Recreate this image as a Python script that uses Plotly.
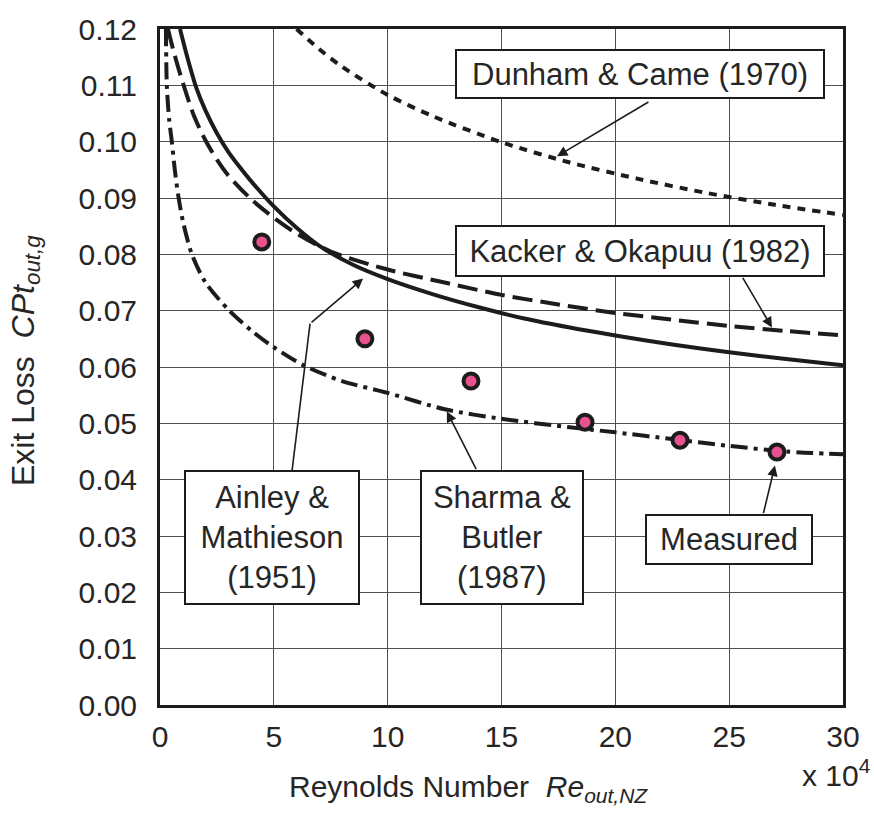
import plotly.graph_objects as go

# Reynolds number (x 10^4) and exit loss coefficient for each correlation
ainley_re = [0.88, 1.2, 1.6, 2.0, 2.5, 3.0, 3.5, 4.0, 5.0, 6.0, 7.0, 8.5, 10, 12, 14, 16, 18, 20, 22.5, 25, 27.5, 30]
ainley_cp = [0.1200, 0.1150, 0.1095, 0.1055, 0.1015, 0.0982, 0.0955, 0.0930, 0.0885, 0.0847, 0.0815, 0.0781,
             0.0756, 0.0729, 0.0706, 0.0686, 0.0670, 0.0656, 0.0640, 0.0626, 0.0614, 0.0603]

kacker_re = [0.35, 0.6, 1.0, 1.5, 2.0, 2.5, 3.0, 4.0, 5.0, 6.0, 7.5, 10, 12.5, 15, 17.5, 20, 22.5, 25, 27.5, 30]
kacker_cp = [0.1200, 0.1160, 0.1105, 0.1045, 0.1002, 0.0968, 0.0940, 0.0898, 0.0865, 0.0837, 0.0805, 0.0773,
             0.0750, 0.0728, 0.0711, 0.0696, 0.0684, 0.0673, 0.0664, 0.0656]

dunham_re = [6, 7, 8, 10, 12, 15, 18, 21, 24, 27, 30]
dunham_cp = [0.1200, 0.1164, 0.1133, 0.1083, 0.1045, 0.0999, 0.0963, 0.0934, 0.0909, 0.0888, 0.0870]

sharma_re = [0.26, 0.3, 0.4, 0.52, 0.65, 0.8, 1.0, 1.4, 2.0, 3.0, 4.0, 5.0, 6.3, 8.0, 10, 12.5, 15, 18, 20,
             22.5, 25, 27.5, 30]
sharma_cp = [0.1200, 0.1100, 0.1040, 0.1000, 0.0950, 0.0905, 0.0860, 0.0800, 0.0750, 0.0702, 0.0665, 0.0635,
             0.0603, 0.0575, 0.0554, 0.0525, 0.0508, 0.0493, 0.0484, 0.0472, 0.0460, 0.0450, 0.0445]

measured_re = [4.47, 9.0, 13.66, 18.67, 22.84, 27.1]
measured_cp = [0.0822, 0.0650, 0.0575, 0.0502, 0.0470, 0.0449]

x_ticks = [0, 5, 10, 15, 20, 25, 30]
y_ticks = [0.00, 0.01, 0.02, 0.03, 0.04, 0.05, 0.06, 0.07, 0.08, 0.09, 0.10, 0.11, 0.12]

FONT = "Liberation Sans, Arial, sans-serif"
INK = "#1c1c1c"
TXT = "#262626"
FS_TICK = 30
FS_BOX = 31

fig = go.Figure()

def curve(x, y, dash):
    fig.add_trace(go.Scatter(
        x=x, y=y, mode="lines",
        line=dict(color=INK, width=4, dash=dash, shape="spline", smoothing=0.8),
        showlegend=False, hoverinfo="skip"))

curve(dunham_re, dunham_cp, "8px,7px")
curve(kacker_re, kacker_cp, "20px,8px")
curve(ainley_re, ainley_cp, "solid")
curve(sharma_re, sharma_cp, "17px,6px,4px,6px")

fig.add_trace(go.Scatter(
    x=measured_re, y=measured_cp, mode="markers",
    marker=dict(size=15, color="#e8528f", line=dict(color=INK, width=4)),
    showlegend=False, hoverinfo="skip"))

# Labelled boxes (center position in data units, box size in px)
boxes = [
    ("Dunham & Came (1970)", 21.08, 0.1120, 366, 46),
    ("Kacker & Okapuu (1982)", 21.08, 0.0806, 366, 48),
    ("Ainley &<br>Mathieson<br>(1951)", 4.92, 0.0298, 172, 131),
    ("Sharma &<br>Butler<br>(1987)", 15.02, 0.0298, 160, 131),
    ("Measured", 24.99, 0.0293, 164, 47),
]
for text, bx, by, w, h in boxes:
    fig.add_annotation(x=bx, y=by, xref="x", yref="y", text=text, showarrow=False,
                       width=w, height=h, align="center", valign="middle",
                       bgcolor="white", bordercolor=INK, borderwidth=2, borderpad=0,
                       font=dict(family=FONT, size=FS_BOX, color=TXT))

# Leader arrows: (tail x, tail y) -> (head x, head y)
arrows = [
    (21.52, 0.1072, 17.44, 0.0974),
    (25.56, 0.0761, 26.88, 0.0670),
    (6.59, 0.0677, 8.92, 0.0757),
    (13.92, 0.0416, 12.60, 0.0521),
    (26.49, 0.0338, 27.01, 0.0425),
]
for tx, ty, hx, hy in arrows:
    fig.add_annotation(x=hx, y=hy, ax=tx, ay=ty, xref="x", yref="y", axref="x", ayref="y",
                       text="", showarrow=True, arrowhead=2, arrowsize=1.3, arrowwidth=1.6,
                       arrowcolor=INK, standoff=0, startstandoff=0)

# Bent leader from the Ainley box
fig.add_shape(type="line", x0=5.80, y0=0.0416, x1=6.59, y1=0.0677, xref="x", yref="y",
              line=dict(color=INK, width=1.6))

# Axis titles
fig.add_annotation(xref="paper", yref="paper", x=-0.198, y=0.51, textangle=-90,
                   text="Exit Loss  <i>CPt</i><sub><i>out,g</i></sub>", showarrow=False,
                   xanchor="center", yanchor="middle",
                   font=dict(family=FONT, size=32, color=TXT))
fig.add_annotation(xref="paper", yref="paper", x=0.451, y=-0.124,
                   text="Reynolds Number  <i>Re</i><sub><i>out,NZ</i></sub>", showarrow=False,
                   xanchor="center", yanchor="middle",
                   font=dict(family=FONT, size=FS_TICK, color=TXT))
fig.add_annotation(xref="paper", yref="paper", x=0.99, y=-0.101,
                   text="x 10<sup>4</sup>", showarrow=False,
                   xanchor="center", yanchor="middle",
                   font=dict(family=FONT, size=FS_TICK, color=TXT))

fig.update_xaxes(range=[0, 30], tickvals=x_ticks, ticktext=[str(v) for v in x_ticks],
                 showgrid=True, gridcolor="#505050", gridwidth=1,
                 showline=True, linecolor=INK, linewidth=3, mirror=True,
                 ticks="", ticklabelstandoff=3, zeroline=False,
                 tickfont=dict(family=FONT, size=FS_TICK, color=TXT))
fig.update_yaxes(range=[0, 0.12], tickvals=y_ticks, ticktext=[f"{v:.2f}" for v in y_ticks],
                 showgrid=True, gridcolor="#505050", gridwidth=1,
                 showline=True, linecolor=INK, linewidth=3, mirror=True,
                 ticks="", ticklabelstandoff=14, zeroline=False,
                 tickfont=dict(family=FONT, size=FS_TICK, color=TXT))

fig.update_layout(width=874, height=815, margin=dict(l=160, r=31, t=19, b=110),
                  plot_bgcolor="white", paper_bgcolor="white")

fig.write_html("out.html")
